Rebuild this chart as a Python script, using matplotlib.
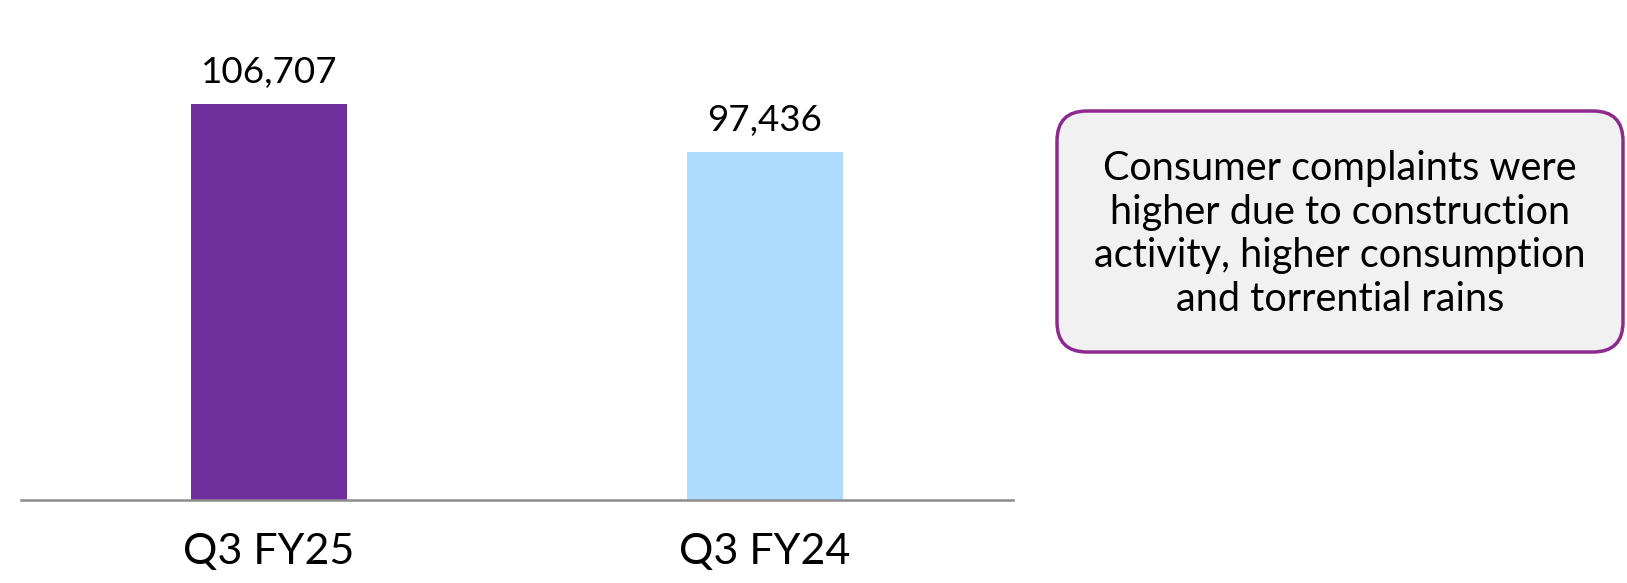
import matplotlib
matplotlib.use("Agg")
import matplotlib.pyplot as plt
from matplotlib.patches import FancyBboxPatch
from matplotlib.transforms import IdentityTransform

plt.rcParams['font.family'] = ['Lato', 'DejaVu Sans']

# Data
periods = ["Q3 FY25", "Q3 FY24"]
complaints = [106707, 97436]
bar_colors = ["#6F2F9C", "#AEDCFD"]
note = ("Consumer complaints were\nhigher due to construction\n"
        "activity, higher consumption\nand torrential rains")

fig = plt.figure(figsize=(16.27, 5.83), dpi=100)
ax = fig.add_axes([21/1627, 83/583, 992/1627, 460/583])

x = range(len(periods))
bars = ax.bar(x, complaints, width=0.315, color=bar_colors)

ax.set_xlim(-0.5, 1.5)
ax.set_ylim(30217, 119072)

for b, v in zip(bars, complaints):
    ax.annotate(f"{v:,}", (b.get_x() + b.get_width()/2, v),
                xytext=(0, 15), textcoords="offset points",
                ha="center", va="baseline", fontsize=26.5, color="black")

ax.set_xticks(list(x))
ax.set_xticklabels(periods, fontsize=31)
ax.tick_params(axis="x", length=0, pad=24)
ax.set_yticks([])
for s in ["top", "right", "left"]:
    ax.spines[s].set_visible(False)
ax.spines["bottom"].set_color("#8c8c8c")
ax.spines["bottom"].set_linewidth(1.8)

# note box (pixel coordinates)
box = FancyBboxPatch((1057, 231), 566, 241,
                     boxstyle="round,pad=0,rounding_size=30",
                     transform=IdentityTransform(),
                     facecolor="#f1f1f1", edgecolor="#8E2A8E", linewidth=2.5)
fig.add_artist(box)
fig.text(1340/1627, 1 - 234/583, note, ha="center", va="center",
         fontsize=28.5, linespacing=1.23, color="black")

fig.savefig("out.png", dpi=100)
